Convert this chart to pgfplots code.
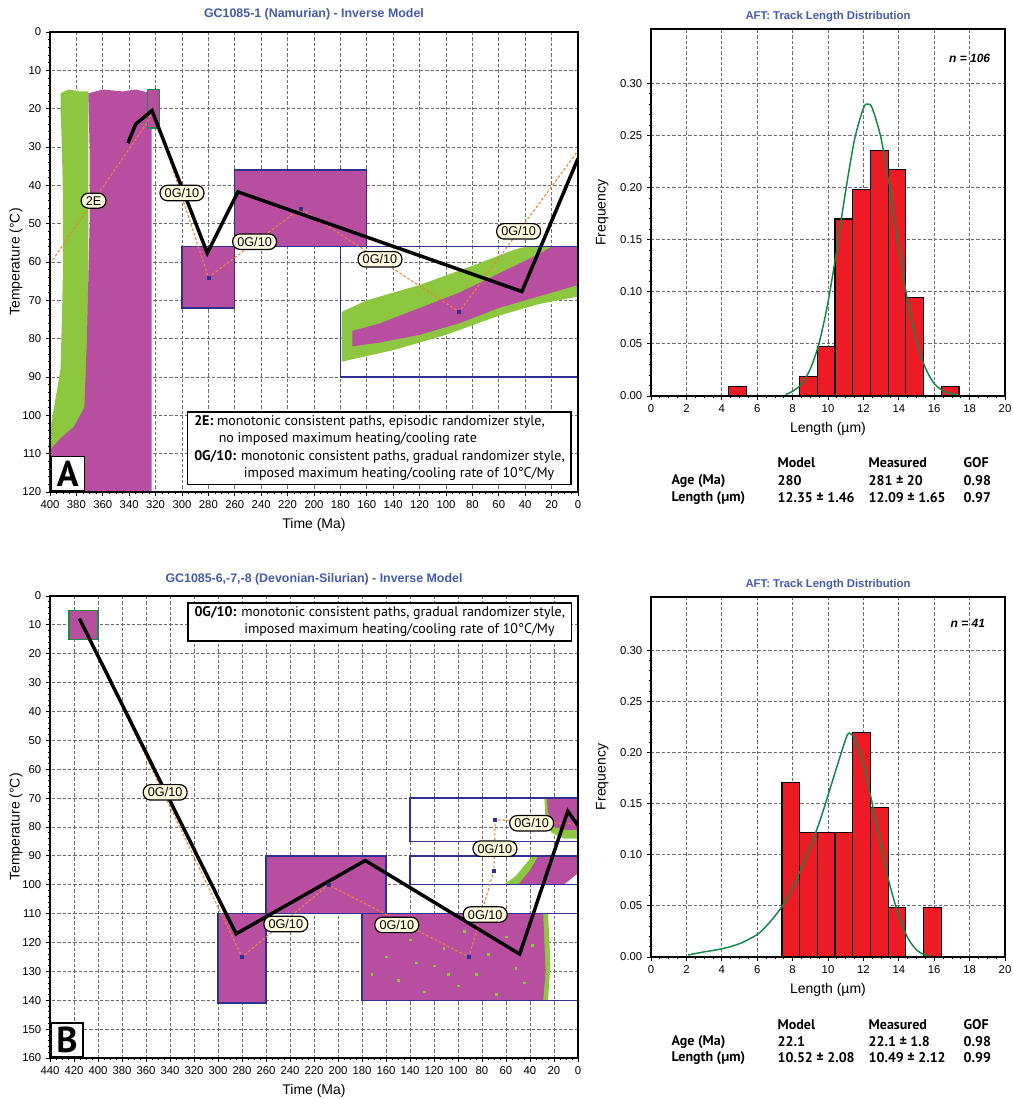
\documentclass[border=0pt]{standalone}
\usepackage{fontspec}
\setmainfont{Liberation Sans}
\newfontfamily\ptf{PT Sans}
\usepackage{pgfplots}
\pgfplotsset{compat=1.18}
\definecolor{purp}{RGB}{184,78,160}
\definecolor{grn}{RGB}{141,198,63}
\definecolor{navy}{RGB}{46,49,146}
\definecolor{dgrn}{RGB}{30,140,70}
\definecolor{orng}{RGB}{240,130,60}
\definecolor{ttl}{RGB}{70,90,170}
\definecolor{barred}{RGB}{237,28,36}
\definecolor{crv}{RGB}{20,135,70}
\definecolor{cream}{RGB}{255,250,222}
\definecolor{gridc}{RGB}{110,110,110}
\pgfplotsset{
  common/.style={scale only axis, tick align=outside, grid=major,
    grid style={gridc, dash pattern=on 2.5pt off 1.5pt, line width=0.6pt},
    axis line style={line width=2pt}, major tick length=3pt, minor tick length=1.8pt,
    tick style={black, line width=0.6pt},
    tick label style={font=\fontsize{8.5}{9}\selectfont},
    label style={font=\fontsize{10.5}{12}\selectfont},
    /pgf/number format/assume math mode=true},
  thist/.style={common, x dir=reverse, y dir=reverse, tick pos=left, ticklabel pos=left,
    minor x tick num=3, minor y tick num=4, ylabel shift=-7pt,
    xlabel={Time (Ma)}, ylabel={Temperature (°C)}},
  hist/.style={common, tick pos=left, xmin=0, xmax=20, ymin=0, ymax=0.352,
    xtick={0,2,...,20}, ytick={0,0.05,0.1,0.15,0.2,0.25,0.3},
    minor x tick num=3, minor y tick num=4, ylabel shift=2pt,
    yticklabel style={/pgf/number format/.cd, fixed, fixed zerofill, precision=2},
    xlabel={Length (µm)}, ylabel={Frequency}},
  path/.style={black, line width=2.6pt, line join=miter},
  orpath/.style={orng, line width=0.8pt, dash pattern=on 2pt off 1.5pt},
  vmark/.style={only marks, mark=square*, mark size=1.1pt, mark options={fill=navy, draw=navy}},
  bx/.style={draw=navy, line width=1pt},
}
\tikzset{lab/.style={draw=black, fill=cream, rounded corners=5.5pt, line width=0.9pt,
  inner xsep=3.5pt, inner ysep=2.3pt, font=\fontsize{9.5}{10}\selectfont}}
\newcommand\tb[1]{{\ptf\bfseries\fontsize{10.5}{12}\selectfont #1}}
\begin{document}
\begin{tikzpicture}
\useasboundingbox (0pt,0pt) rectangle (759.75pt,-824.25pt);
% ---------------- A ----------------
\begin{axis}[thist, at={(37.5pt,-369pt)}, anchor=south west, width=396pt, height=345pt,
  xmin=0, xmax=400, ymin=0, ymax=120, xtick={0,20,...,400}, ytick={0,10,...,120}]
\addplot[fill=grn, draw=none] coordinates {(392,16)(386,15)(378,15.5)(371,15.5)(371,120)(400,120)(400,104)(396,96)(392,88)(391,75)(390,60)(390,45)(391,30)(392,20)} --cycle;
\addplot[fill=purp, draw=none] coordinates {(371,16)(360,15)(345,15.5)(335,15)(323,16)(323,120)(400,120)(400,109)(392,106)(382,103)(374,98)(372,80)(370,50)(370,30)} --cycle;
\addplot[fill=purp, draw=dgrn, line width=1.2pt] coordinates {(326,15)(317,15)(317,25)(326,25)} --cycle;
\addplot[fill=purp, bx] coordinates {(300,56)(260,56)(260,72)(300,72)} --cycle;
\addplot[fill=purp, bx] coordinates {(260,36)(160,36)(160,56)(260,56)} --cycle;
\addplot[fill=grn, draw=none] coordinates {(179,73)(160,70)(120,66)(80,61)(50,57)(40,56)(0,56)(0,69)(30,71)(60,74)(100,79)(140,83)(179,86)} --cycle;
\addplot[fill=purp, draw=none] coordinates {(171,78)(150,76)(120,72)(90,68)(60,63)(30,58)(20,56)(0,56)(0,66)(30,69)(60,72)(90,76)(120,79)(150,81)(171,82)} --cycle;
\addplot[bx] coordinates {(180,56)(0,56)(0,90)(180,90)} --cycle;
\addplot[orpath] coordinates {(400,60.5)(327,24)(322,20)(280,64)(210,46)(90,73)(0,31)};
\addplot[vmark] coordinates {(280,64)(210,46)(90,73)};
\addplot[path] coordinates {(341,29)(335,24)(322.7,20.5)(280.8,57.7)(257.6,41.7)(42.5,67.7)(0,33)};
\node[lab] at (axis cs:367,44) {2E};
\node[lab] at (axis cs:300,42) {0G/10};
\node[lab] at (axis cs:245,54.7) {0G/10};
\node[lab] at (axis cs:150,59.3) {0G/10};
\node[lab] at (axis cs:45,52) {0G/10};
\node[draw=black, fill=white, line width=1.3pt, anchor=south east, align=left, inner xsep=5pt, inner ysep=3pt,
  font=\ptf\fontsize{10.5}{13}\selectfont] at (axis cs:4.4,118.3)
  {\textbf{2E:} monotonic consistent paths, episodic randomizer style,\\
   \hspace*{1.75em}no imposed maximum heating/cooling rate\\
   \textbf{0G/10:} monotonic consistent paths, gradual randomizer style,\\
   \hspace*{3.55em}imposed maximum heating/cooling rate of 10°C/My};
\node[draw=black, fill=white, line width=1.3pt, anchor=south west, minimum width=25.3pt, minimum height=25.9pt,
  inner sep=0pt, font=\ptf\bfseries\fontsize{27}{27}\selectfont] at (axis cs:400,120) {A};
\draw[line width=2pt] (rel axis cs:0,0) rectangle (rel axis cs:1,1);
\end{axis}
\node[font=\bfseries\fontsize{9.3}{11}\selectfont, text=ttl] at (235.5pt,-10.5pt) {GC1085-1 (Namurian) - Inverse Model};
% ---------------- hist A ----------------
\begin{axis}[hist, at={(488.25pt,-297pt)}, anchor=south west, width=265.5pt, height=275.25pt]
\addplot[ybar interval, fill=barred, draw=black, line width=0.9pt] coordinates {(4.4,0.0094)(5.4,0)(6.4,0)(7.4,0)(8.4,0.0189)(9.4,0.0472)(10.4,0.1698)(11.4,0.1981)(12.4,0.2358)(13.4,0.2170)(14.4,0.0943)(15.4,0)(16.4,0.0094)(17.4,0)};
\addplot[crv, line width=1.1pt, smooth] coordinates {(7.6,0.0015)(8.0,0.0045)(8.5,0.0115)(9.0,0.026)(9.5,0.051)(10.0,0.090)(10.5,0.141)(11.0,0.197)(11.5,0.246)(12.0,0.276)(12.25,0.280)(12.5,0.276)(13.0,0.247)(13.5,0.198)(14.0,0.142)(14.5,0.091)(15.0,0.052)(15.5,0.027)(16.0,0.012)(16.5,0.005)(17.0,0.002)(17.3,0.001)};
\node[font=\bfseries\itshape\fontsize{9}{10}\selectfont] at (axis cs:18,0.324) {n = 106};
\draw[line width=2pt] (rel axis cs:0,0) rectangle (rel axis cs:1,1);
\end{axis}
\node[font=\bfseries\fontsize{8.5}{10}\selectfont, text=ttl] at (621pt,-12.75pt) {AFT: Track Length Distribution};
\node[anchor=west] at (579.75pt,-347.25pt) {\tb{Model}};
\node[anchor=west] at (648pt,-347.25pt) {\tb{Measured}};
\node[anchor=west] at (719.25pt,-347.25pt) {\tb{GOF}};
\node[anchor=west] at (500.25pt,-360.75pt) {\tb{Age (Ma)}};
\node[anchor=west] at (579.75pt,-360.75pt) {\tb{280}};
\node[anchor=west] at (648pt,-360.75pt) {\tb{281 ± 20}};
\node[anchor=west] at (719.25pt,-360.75pt) {\tb{0.98}};
\node[anchor=west] at (500.25pt,-373.5pt) {\tb{Length (µm)}};
\node[anchor=west] at (579.75pt,-373.5pt) {\tb{12.35 ± 1.46}};
\node[anchor=west] at (648pt,-373.5pt) {\tb{12.09 ± 1.65}};
\node[anchor=west] at (719.25pt,-373.5pt) {\tb{0.97}};
% ---------------- B ----------------
\begin{axis}[thist, at={(37.5pt,-793.5pt)}, anchor=south west, width=396pt, height=346.5pt,
  xmin=0, xmax=440, ymin=0, ymax=160, xtick={0,20,...,440}, ytick={0,10,...,160}]
\addplot[fill=purp, draw=dgrn, line width=1.2pt] coordinates {(424,5)(400,5)(400,15)(424,15)} --cycle;
\addplot[fill=purp, bx] coordinates {(300,110)(260,110)(260,141)(300,141)} --cycle;
\addplot[fill=purp, bx] coordinates {(260,90)(160,90)(160,110)(260,110)} --cycle;
\addplot[fill=grn, draw=none] coordinates {(32,110)(25,110)(24,118)(23,128)(25,140)(31,140)} --cycle;
\addplot[fill=purp, draw=none] coordinates {(180,110)(29,110)(28,120)(27,130)(29,140)(180,140)} --cycle;
\addplot[only marks, mark=square*, mark size=0.6pt, grn] coordinates {(160,125)(150,133)(140,119)(128,137)(120,128)(112,122)(100,135)(95,116)(85,131)(75,124)(68,138)(60,118)(52,129)(45,134)(38,121)(172,131)(135,127)(108,131)};
\addplot[bx] coordinates {(180,110)(0,110)(0,140)(180,140)} --cycle;
\addplot[fill=grn, draw=none] coordinates {(62,100)(52,97)(44,93)(38,90)(26,90)(46,100)} --cycle;
\addplot[fill=purp, draw=none] coordinates {(50,100)(40,95)(33,90)(0,90)(0,96)(12,100)} --cycle;
\addplot[bx] coordinates {(140,90)(0,90)(0,100)(140,100)} --cycle;
\addplot[fill=grn, draw=none] coordinates {(28,70)(27,78)(22,82)(12,84)(0,84)(0,70)} --cycle;
\addplot[fill=purp, draw=none] coordinates {(26,70)(25,75)(20,80)(10,81)(0,81)(0,70)} --cycle;
\addplot[bx] coordinates {(140,70)(0,70)(0,85)(140,85)} --cycle;
\addplot[orpath] coordinates {(415,8)(280,125)(208,100)(91,125)(70,95)(69,77.5)(0,79)};
\addplot[vmark] coordinates {(280,125)(208,100)(91,125)(70,95)(69,77.5)};
\addplot[path] coordinates {(415.5,7.8)(284.9,117)(177.3,91.6)(48.6,124)(8.5,74.5)(0,79.5)};
\node[lab] at (axis cs:344,68) {0G/10};
\node[lab] at (axis cs:243.5,113.6) {0G/10};
\node[lab] at (axis cs:151,113.9) {0G/10};
\node[lab] at (axis cs:77.3,110.3) {0G/10};
\node[lab] at (axis cs:69.2,87.5) {0G/10};
\node[lab] at (axis cs:38.6,78.7) {0G/10};
\node[draw=black, fill=white, line width=1.3pt, anchor=north east, align=left, inner xsep=5pt, inner ysep=3pt,
  font=\ptf\fontsize{10.5}{13}\selectfont] at (axis cs:4.6,2)
  {\textbf{0G/10:} monotonic consistent paths, gradual randomizer style,\\
   \hspace*{3.55em}imposed maximum heating/cooling rate of 10°C/My};
\node[draw=black, fill=white, line width=1.3pt, anchor=south west, minimum width=24.3pt, minimum height=25.4pt,
  inner sep=0pt, font=\ptf\bfseries\fontsize{27}{27}\selectfont] at (axis cs:440,160) {B};
\draw[line width=2pt] (rel axis cs:0,0) rectangle (rel axis cs:1,1);
\end{axis}
\node[font=\bfseries\fontsize{9.3}{11}\selectfont, text=ttl] at (235.5pt,-434.25pt) {GC1085-6,-7,-8 (Devonian-Silurian) - Inverse Model};
% ---------------- hist B ----------------
\begin{axis}[hist, at={(488.25pt,-717.75pt)}, anchor=south west, width=265.5pt, height=270pt]
\addplot[ybar interval, fill=barred, draw=black, line width=0.9pt] coordinates {(7.4,0.1707)(8.4,0.1220)(9.4,0.1220)(10.4,0.1220)(11.4,0.2195)(12.4,0.1463)(13.4,0.0488)(14.4,0)(15.4,0.0488)(16.4,0)};
\addplot[crv, line width=1.1pt, smooth] coordinates {(2.1,0.002)(3,0.005)(4,0.008)(5,0.013)(6,0.022)(6.5,0.030)(7,0.040)(7.5,0.052)(8,0.068)(8.5,0.087)(9,0.108)(9.5,0.131)(10,0.158)(10.5,0.186)(11,0.213)(11.2,0.219)(11.5,0.213)(12,0.188)(12.5,0.150)(13,0.107)(13.5,0.070)(14,0.040)(14.5,0.019)(15,0.007)(15.5,0.002)(16,0.0)};
\node[font=\bfseries\itshape\fontsize{9}{10}\selectfont] at (axis cs:17.9,0.3266) {n = 41};
\draw[line width=2pt] (rel axis cs:0,0) rectangle (rel axis cs:1,1);
\end{axis}
\node[font=\bfseries\fontsize{8.5}{10}\selectfont, text=ttl] at (621pt,-438.75pt) {AFT: Track Length Distribution};
\node[anchor=west] at (579.75pt,-768.75pt) {\tb{Model}};
\node[anchor=west] at (648pt,-768.75pt) {\tb{Measured}};
\node[anchor=west] at (719.25pt,-768.75pt) {\tb{GOF}};
\node[anchor=west] at (500.25pt,-781.5pt) {\tb{Age (Ma)}};
\node[anchor=west] at (579.75pt,-781.5pt) {\tb{22.1}};
\node[anchor=west] at (648pt,-781.5pt) {\tb{22.1 ± 1.8}};
\node[anchor=west] at (719.25pt,-781.5pt) {\tb{0.98}};
\node[anchor=west] at (500.25pt,-793.5pt) {\tb{Length (µm)}};
\node[anchor=west] at (579.75pt,-793.5pt) {\tb{10.52 ± 2.08}};
\node[anchor=west] at (648pt,-793.5pt) {\tb{10.49 ± 2.12}};
\node[anchor=west] at (719.25pt,-793.5pt) {\tb{0.99}};
\end{tikzpicture}
\end{document}
